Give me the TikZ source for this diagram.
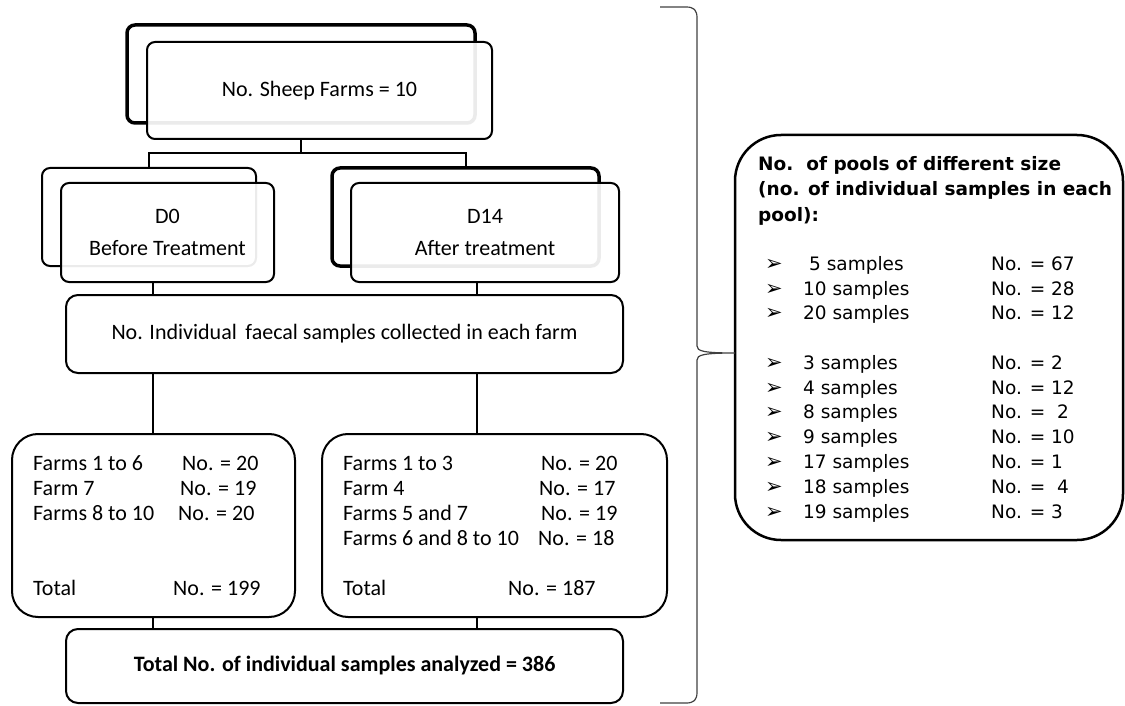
\documentclass[tikz,border=0pt]{standalone}
\usepackage{fontspec}
\setmainfont{Carlito}
\newfontfamily\poolfont{DejaVu Sans}
\begin{document}
\begin{tikzpicture}[x=1pt,y=-1pt,
  box/.style={draw=black, line width=2pt, rounded corners=8pt, inner sep=0pt, anchor=center},
  thickbox/.style={box, line width=3.5pt},
  frontbox/.style={box, fill=white, fill opacity=0.92, text opacity=1},
  conn/.style={draw=black, line width=2pt},
  mainfont/.style={font=\fontsize{22}{32}\selectfont},
  rowtxt/.style={anchor=base west, inner sep=0pt, font=\fontsize{22}{26}\selectfont},
  pooltxt/.style={anchor=base west, inner sep=0pt, font=\poolfont\fontsize{18.5}{22}\selectfont},
  poolbullet/.style={anchor=base west, inner sep=0pt, font=\poolfont\fontsize{21}{22}\selectfont},
  poolhead/.style={pooltxt, font=\poolfont\bfseries\fontsize{18.5}{22}\selectfont},
  brace/.style={draw=black!75, line width=1.2pt}
]
\useasboundingbox (0,0) rectangle (1125,706);

% top
\node[thickbox, minimum width=348pt, minimum height=98pt] (topb) at (301,74) {};
\node[frontbox, mainfont, minimum width=345pt, minimum height=97pt] (topf) at (319.5,90.5) {No. Sheep Farms = 10};

% D0 / D14
\node[box, minimum width=214pt, minimum height=98pt] (d0b) at (149,217) {};
\node[frontbox, mainfont, align=center, minimum width=213pt, minimum height=99pt] (d0f) at (167.5,232.5) {D0\\Before Treatment};
\node[thickbox, minimum width=267pt, minimum height=98pt] (d14b) at (465.5,217) {};
\node[frontbox, mainfont, align=center, minimum width=268pt, minimum height=99pt] (d14f) at (485,232.5) {D14\\After treatment};

% middle
\node[box, rounded corners=12pt, mainfont, minimum width=557pt, minimum height=78pt] (mid) at (344.5,334) {No. Individual\, faecal samples collected in each farm};

% farm boxes
\node[box, rounded corners=26pt, minimum width=283pt, minimum height=183pt] (farmL) at (153.5,525.5) {};
\node[box, rounded corners=26pt, minimum width=345pt, minimum height=183pt] (farmR) at (494.5,525.5) {};

% total
\node[box, rounded corners=12pt, minimum width=557pt, minimum height=74pt, font=\bfseries\fontsize{22}{26}\selectfont] (total) at (344.5,666) {Total No. of individual samples analyzed = 386};

% pools box
\node[box, line width=2.5pt, rounded corners=46pt, minimum width=388pt, minimum height=405pt] (pools) at (929,337.5) {};

% connectors
\coordinate (split) at (301,153);
\coordinate (colL) at (153,0);
\coordinate (colR) at (477,0);
\draw[conn] (split |- topf.south) -- (split);
\draw[conn] (d0b.north) |- (split) -| (d14b.north);
\draw[conn] (colL |- d0f.south) -- (colL |- mid.north);
\draw[conn] (colR |- d14f.south) -- (colR |- mid.north);
\draw[conn] (colL |- mid.south) -- (colL |- farmL.north);
\draw[conn] (colR |- mid.south) -- (colR |- farmR.north);
\draw[conn] (colL |- farmL.south) -- (colL |- total.north);
\draw[conn] (colR |- farmR.south) -- (colR |- total.north);

% farm texts left
\foreach \x/\y/\t [count=\i] in {33/470/Farms 1 to 6, 182/470/No. = 20,
    33/495/Farm 7, 180/495/No. = 19,
    33/520/Farms 8 to 10, 178/520/No. = 20,
    33/595/Total, 173/595/No. = 199}
  \node[rowtxt] (fl\i) at (\x,\y) {\t};
% farm texts right
\foreach \x/\y/\t [count=\i] in {343/470/Farms 1 to 3, 541/470/No. = 20,
    343/495/Farm 4, 539/495/No. = 17,
    343/520/Farms 5 and 7, 541/520/No. = 19,
    343/545/Farms 6 and 8 to 10, 538/545/No. = 18,
    343/595/Total, 508/595/No. = 187}
  \node[rowtxt] (fr\i) at (\x,\y) {\t};

% pools texts
\node[poolhead] (ph1) at (758,171) {No.\ \ of pools of different size};
\node[poolhead] (ph2) at (758,196) {(no. of individual samples in each};
\node[poolhead] (ph3) at (758,221) {pool):};
\foreach \y/\s/\n [count=\i] in {270/{\hspace{6pt}5 samples}/{No. = 67},
    295/{10 samples}/{No. = 28},
    319/{20 samples}/{No. = 12},
    369/{3 samples}/{No. = 2},
    394/{4 samples}/{No. = 12},
    418/{8 samples}/{No. = \ 2},
    443/{9 samples}/{No. = 10},
    468/{17 samples}/{No. = 1},
    493/{18 samples}/{No. = \ 4},
    518/{19 samples}/{No. = 3}} {
  \node[poolbullet] (pb\i) at (765,\y) {➢};
  \node[pooltxt] (ps\i) at (803,\y) {\s};
  \node[pooltxt] (pn\i) at (991,\y) {\n};
}

% brace
\coordinate (tip) at (735,353);
\draw[brace] (660,7) -- (686,7) .. controls (694,7) and (697,10) .. (697,18)
  -- (697,346) .. controls (697,351) and (703,353) .. (tip)
  .. controls (703,353) and (697,355) .. (697,360)
  -- (697,692) .. controls (697,700) and (694,703) .. (686,703) -- (660,703);
\end{tikzpicture}
\end{document}
